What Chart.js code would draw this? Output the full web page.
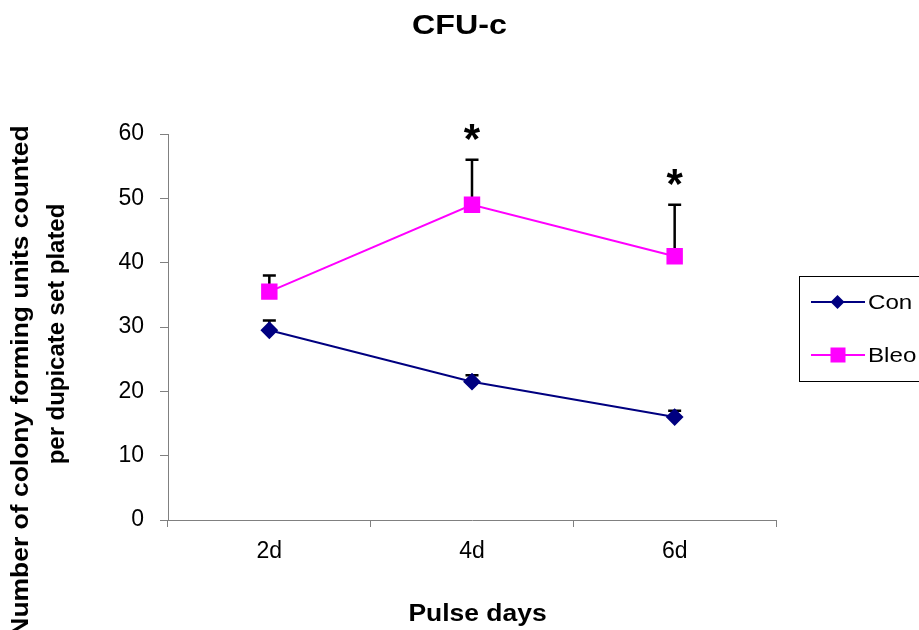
<!DOCTYPE html>
<html>
<head>
<meta charset="utf-8">
<script src="https://cdn.jsdelivr.net/npm/chart.js@4"></script>
<style>
  html, body { margin: 0; padding: 0; background: #fff; }
  #wrap { width: 919px; height: 630px; position: relative; }
</style>
</head>
<body>
<div id="wrap"><canvas id="chart"></canvas></div>
<script>
// data
const days = ['2d', '4d', '6d'];
const conMean = [29.5, 21.5, 16];
const conErr = [1.5, 1, 1];
const bleoMean = [35.5, 49, 41];
const bleoErr = [2.5, 7, 8];
const bleoSig = ['', '*', '*'];
const yTicks = [0, 10, 20, 30, 40, 50, 60];

const FONT = "Arial, 'Liberation Sans', sans-serif";
const CON_COLOR = '#000080';
const BLEO_COLOR = '#FF00FF';
const AXIS_COLOR = '#808080';

// text stretched sideways a little, like the Excel original
function stretchText(ctx, text, x, y, font, sx, rot) {
    ctx.save();
    ctx.font = font;
    ctx.fillStyle = '#000';
    ctx.textAlign = 'center';
    ctx.textBaseline = 'middle';
    ctx.translate(x, y);
    if (rot) ctx.rotate(rot);
    ctx.scale(sx, 1);
    ctx.fillText(text, 0, 0);
    ctx.restore();
}

const errorBars = {
    id: 'errorBars',
    beforeDatasetsDraw(chart) {
        const ctx = chart.ctx;
        const y = chart.scales.y;
        ctx.save();
        ctx.strokeStyle = '#000';
        ctx.lineWidth = 2.5;
        chart.data.datasets.forEach((ds, i) => {
            const meta = chart.getDatasetMeta(i);
            meta.data.forEach((pt, j) => {
                const top = y.getPixelForValue(ds.data[j] + ds.errUp[j]);
                ctx.beginPath();
                ctx.moveTo(pt.x, pt.y);
                ctx.lineTo(pt.x, top);
                ctx.moveTo(pt.x - 6.5, top);
                ctx.lineTo(pt.x + 6.5, top);
                ctx.stroke();
                if (ds.sig && ds.sig[j]) {
                    // star sits about 21px above the cap
                    ctx.fillStyle = '#000';
                    ctx.font = 'bold 42px ' + FONT;
                    ctx.textAlign = 'center';
                    ctx.textBaseline = 'alphabetic';
                    ctx.fillText(ds.sig[j], pt.x, top - 7);
                }
            });
        });
        ctx.restore();
    },
    afterDraw(chart) {
        const ctx = chart.ctx;
        stretchText(ctx, 'CFU-c', 459.5, 26, 'bold 28px ' + FONT, 1.15);
        stretchText(ctx, 'Pulse days', 477.5, 615, 'bold 23px ' + FONT, 1.15);
        stretchText(ctx, 'Number of colony forming units counted', 22, 381, 'bold 23px ' + FONT, 1.15, -Math.PI / 2);
        stretchText(ctx, 'per dupicate set plated', 58, 334, 'bold 23px ' + FONT, 1.04, -Math.PI / 2);

        // legend box
        ctx.save();
        ctx.strokeStyle = '#000';
        ctx.lineWidth = 1;
        ctx.strokeRect(799.5, 276.5, 140, 105);
        const items = [
            { label: 'Con', color: CON_COLOR, shape: 'diamond', y: 302 },
            { label: 'Bleo', color: BLEO_COLOR, shape: 'square', y: 355 }
        ];
        items.forEach(it => {
            ctx.strokeStyle = it.color;
            ctx.lineWidth = 2;
            ctx.beginPath();
            ctx.moveTo(811, it.y);
            ctx.lineTo(865, it.y);
            ctx.stroke();
            ctx.fillStyle = it.color;
            if (it.shape === 'diamond') {
                ctx.beginPath();
                ctx.moveTo(837.5, it.y - 7);
                ctx.lineTo(844.5, it.y);
                ctx.lineTo(837.5, it.y + 7);
                ctx.lineTo(830.5, it.y);
                ctx.closePath();
                ctx.fill();
            } else {
                ctx.fillRect(830.5, it.y - 7.5, 15, 15);
            }
            ctx.save();
            ctx.fillStyle = '#000';
            ctx.font = '21px ' + FONT;
            ctx.textAlign = 'left';
            ctx.textBaseline = 'middle';
            ctx.translate(868, it.y + 1);
            ctx.scale(1.15, 1);
            ctx.fillText(it.label, 0, 0);
            ctx.restore();
        });
        ctx.restore();
    }
};

new Chart(document.getElementById('chart'), {
    type: 'line',
    data: {
        labels: days,
        datasets: [{
            label: 'Con',
            data: conMean,
            errUp: conErr,
            borderColor: CON_COLOR,
            backgroundColor: CON_COLOR,
            borderWidth: 2,
            pointStyle: 'rectRot',
            pointRadius: 7.5,
            pointHoverRadius: 7.5,
            tension: 0
        }, {
            label: 'Bleo',
            data: bleoMean,
            errUp: bleoErr,
            sig: bleoSig,
            borderColor: BLEO_COLOR,
            backgroundColor: BLEO_COLOR,
            borderWidth: 2,
            pointStyle: 'rect',
            pointRadius: 10.2,
            pointHoverRadius: 10.2,
            tension: 0
        }]
    },
    options: {
        responsive: true,
        maintainAspectRatio: false,
        animation: false,
        layout: { padding: { top: 134, right: 143, left: 0, bottom: 0 } },
        plugins: {
            legend: { display: false },
            tooltip: { enabled: false },
            title: { display: false }
        },
        scales: {
            x: {
                offset: true,
                afterFit: s => { s.height = 110; },
                grid: {
                    offset: true,
                    drawOnChartArea: false,
                    drawTicks: true,
                    tickLength: 7,
                    color: AXIS_COLOR
                },
                border: { color: AXIS_COLOR, width: 1 },
                ticks: {
                    color: '#000',
                    font: { family: FONT, size: 23 },
                    padding: 11
                }
            },
            y: {
                min: 0,
                max: 60,
                afterFit: s => { s.width = 168; },
                afterBuildTicks: s => { s.ticks = yTicks.map(v => ({ value: v })); },
                grid: {
                    drawOnChartArea: false,
                    drawTicks: true,
                    tickLength: 8,
                    color: AXIS_COLOR
                },
                border: { color: AXIS_COLOR, width: 1 },
                ticks: {
                    color: '#000',
                    font: { family: FONT, size: 23 },
                    padding: 16
                }
            }
        }
    },
    plugins: [errorBars]
});
</script>
</body>
</html>
